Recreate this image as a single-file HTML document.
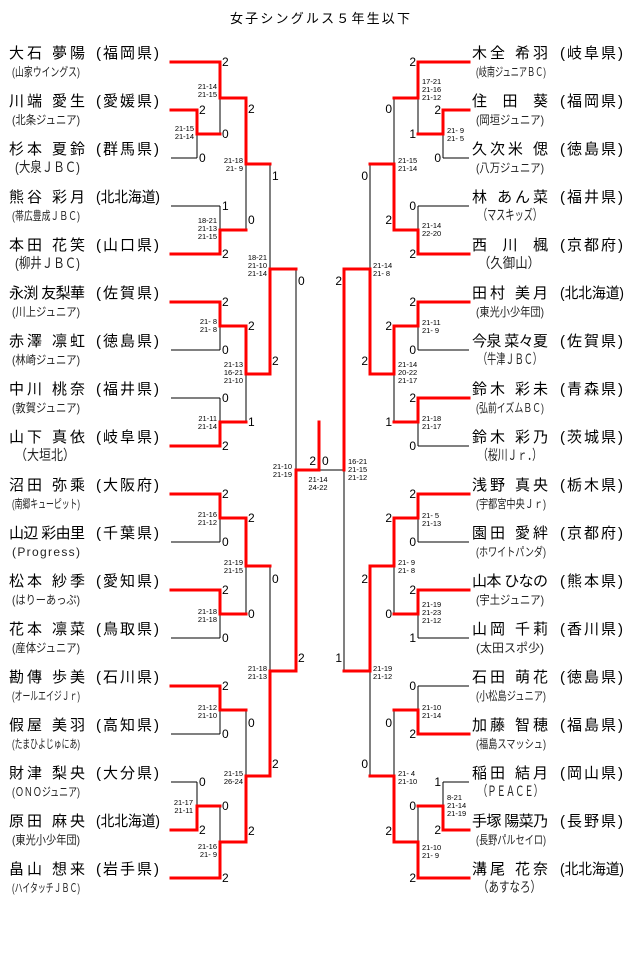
<!DOCTYPE html>
<html><head><meta charset="utf-8"><style>
html,body{margin:0;padding:0;background:#fff;}
svg{display:block;}
.n{font-family:"Liberation Sans","Noto Sans CJK JP",sans-serif;font-size:15px;fill:#000;}
.t{font-family:"Liberation Sans","Noto Sans CJK JP",sans-serif;font-size:12px;fill:#222;}
.tw{font-family:"Liberation Sans","Noto Sans CJK JP",sans-serif;font-size:14px;fill:#222;}
.d{font-family:"Liberation Sans",sans-serif;font-size:12px;fill:#000;}
.s{font-family:"Liberation Sans",sans-serif;font-size:7.5px;fill:#000;}
.ti{font-family:"Liberation Sans","Noto Sans CJK JP",sans-serif;font-size:13px;fill:#000;}
</style></head><body>
<svg width="640" height="957" viewBox="0 0 640 957" xmlns="http://www.w3.org/2000/svg">
<text class="ti" x="230" y="23" textLength="180" lengthAdjust="spacing">女子シングルス５年生以下</text>

<g stroke="#000" stroke-width="1" fill="none">
<path d="M171 158H197 M197 134V158 M220 98V134 M171 206H220 M220 206V230 M246 164V230 M171 350H220 M220 326V350 M171 398H220 M220 398V422 M246 374V422 M270 164V269 M296 269V470 M319 470H344
M171 542H220 M220 518V542 M171 638H220 M220 614V638 M246 566V614 M171 734H220 M220 710V734 M171 782H197 M197 782V806 M220 806V842 M246 710V776 M270 566V671
M443 158H469 M443 134V158 M418 98V134 M418 206H469 M418 206V230 M394 98V164 M418 350H469 M418 326V350 M418 446H469 M418 422V446 M394 374V422 M370 164V269 M344 470V671
M418 542H469 M418 518V542 M418 638H469 M418 614V638 M394 566V614 M418 686H469 M418 686V710 M443 782H469 M443 782V806 M418 806V842 M394 710V776 M370 671V776"/>
</g>
<g stroke="#ff0000" stroke-width="3" fill="none" stroke-linecap="square" stroke-linejoin="miter">
<path d="M171 62H220V98H246 M171 110H197V134H220 M171 254H220V230H246 M246 98V164H270 M171 302H220V326H246 M171 446H220V422H246 M246 326V374H270 M270 374V269H296 M296 671V470H319V422
M171 494H220V518H246 M171 590H220V614H246 M246 518V566H270 M171 686H220V710H246 M171 830H197V806H220 M171 878H220V842H246 M246 842V776H270 M270 776V671H296
M469 62H418V98H394 M469 110H443V134H418 M469 254H418V230H394 M394 230V164H370 M469 302H418V326H394 M469 398H418V422H394 M394 326V374H370 M370 374V269H344V470
M469 494H418V518H394 M469 590H418V614H394 M394 518V566H370 M469 734H418V710H394 M469 830H443V806H418 M469 878H418V842H394 M394 842V776H370 M370 566V671H344"/>
</g>

<g class="d">
<text x="199" y="114">2</text><text x="199" y="162">0</text><text x="199" y="786">0</text><text x="199" y="834">2</text>
<text x="222" y="66">2</text><text x="222" y="138">0</text><text x="222" y="210">1</text><text x="222" y="258">2</text>
<text x="222" y="306">2</text><text x="222" y="354">0</text><text x="222" y="402">0</text><text x="222" y="450">2</text>
<text x="222" y="498">2</text><text x="222" y="546">0</text><text x="222" y="594">2</text><text x="222" y="642">0</text>
<text x="222" y="690">2</text><text x="222" y="738">0</text><text x="222" y="810">0</text><text x="222" y="882">2</text>
<text x="248" y="113">2</text><text x="248" y="224">0</text><text x="248" y="330">2</text><text x="248" y="426">1</text>
<text x="248" y="522">2</text><text x="248" y="618">0</text><text x="248" y="727">0</text><text x="248" y="835">2</text>
<text x="272" y="180">1</text><text x="272" y="365">2</text><text x="272" y="583">0</text><text x="272" y="768">2</text>
<text x="298" y="285">0</text><text x="298" y="662">2</text>
<text x="316" y="465" text-anchor="end">2</text><text x="322" y="465">0</text>
</g>
<g class="d" text-anchor="end">
<text x="441" y="114">2</text><text x="441" y="162">0</text><text x="441" y="786">1</text><text x="441" y="834">2</text>
<text x="416" y="66">2</text><text x="416" y="138">1</text><text x="416" y="210">0</text><text x="416" y="258">2</text>
<text x="416" y="306">2</text><text x="416" y="354">0</text><text x="416" y="402">2</text><text x="416" y="450">0</text>
<text x="416" y="498">2</text><text x="416" y="546">0</text><text x="416" y="594">2</text><text x="416" y="642">1</text>
<text x="416" y="690">0</text><text x="416" y="738">2</text><text x="416" y="810">0</text><text x="416" y="882">2</text>
<text x="392" y="113">0</text><text x="392" y="224">2</text><text x="392" y="330">2</text><text x="392" y="426">1</text>
<text x="392" y="522">2</text><text x="392" y="618">0</text><text x="392" y="727">0</text><text x="392" y="835">2</text>
<text x="368" y="180">0</text><text x="368" y="365">2</text><text x="368" y="583">2</text><text x="368" y="768">0</text>
<text x="342" y="285">2</text><text x="342" y="662">1</text>
</g>

<g class="s" text-anchor="end">
<text x="194" y="131">21-15</text><text x="194" y="139">21-14</text>
<text x="217" y="89">21-14</text><text x="217" y="97">21-15</text>
<text x="217" y="223">18-21</text><text x="217" y="231">21-13</text><text x="217" y="239">21-15</text>
<text x="243" y="163">21-18</text><text x="243" y="171">21- 9</text>
<text x="217" y="324">21- 8</text><text x="217" y="332">21- 8</text>
<text x="217" y="421">21-11</text><text x="217" y="429">21-14</text>
<text x="243" y="367">21-13</text><text x="243" y="375">16-21</text><text x="243" y="383">21-10</text>
<text x="267" y="260">18-21</text><text x="267" y="268">21-10</text><text x="267" y="276">21-14</text>
<text x="292" y="469">21-10</text><text x="292" y="477">21-19</text>
<text x="217" y="517">21-16</text><text x="217" y="525">21-12</text>
<text x="243" y="565">21-19</text><text x="243" y="573">21-15</text>
<text x="217" y="614">21-18</text><text x="217" y="622">21-18</text>
<text x="267" y="671">21-18</text><text x="267" y="679">21-13</text>
<text x="217" y="710">21-12</text><text x="217" y="718">21-10</text>
<text x="243" y="776">21-15</text><text x="243" y="784">26-24</text>
<text x="193" y="805">21-17</text><text x="193" y="813">21-11</text>
<text x="217" y="849">21-16</text><text x="217" y="857">21- 9</text>
</g>
<g class="s" text-anchor="middle">
<text x="318" y="482">21-14</text><text x="318" y="490">24-22</text>
</g>
<g class="s">
<text x="447" y="133">21- 9</text><text x="447" y="141">21- 5</text>
<text x="422" y="84">17-21</text><text x="422" y="92">21-16</text><text x="422" y="100">21-12</text>
<text x="422" y="228">21-14</text><text x="422" y="236">22-20</text>
<text x="398" y="163">21-15</text><text x="398" y="171">21-14</text>
<text x="373" y="268">21-14</text><text x="373" y="276">21- 8</text>
<text x="422" y="325">21-11</text><text x="422" y="333">21- 9</text>
<text x="398" y="367">21-14</text><text x="398" y="375">20-22</text><text x="398" y="383">21-17</text>
<text x="422" y="421">21-18</text><text x="422" y="429">21-17</text>
<text x="348" y="464">16-21</text><text x="348" y="472">21-15</text><text x="348" y="480">21-12</text>
<text x="422" y="518">21- 5</text><text x="422" y="526">21-13</text>
<text x="398" y="565">21- 9</text><text x="398" y="573">21- 8</text>
<text x="422" y="607">21-19</text><text x="422" y="615">21-23</text><text x="422" y="623">21-12</text>
<text x="373" y="671">21-19</text><text x="373" y="679">21-12</text>
<text x="422" y="710">21-10</text><text x="422" y="718">21-14</text>
<text x="398" y="776">21- 4</text><text x="398" y="784">21-10</text>
<text x="447" y="800">8-21</text><text x="447" y="808">21-14</text><text x="447" y="816">21-19</text>
<text x="422" y="850">21-10</text><text x="422" y="858">21- 9</text>
</g>

<g class="n">
<text x="9" y="58" textLength="76" lengthAdjust="spacing">大石 夢陽</text><text x="96" y="58" textLength="63" lengthAdjust="spacing">(福岡県)</text>
<text x="9" y="106" textLength="76" lengthAdjust="spacing">川端 愛生</text><text x="96" y="106" textLength="63" lengthAdjust="spacing">(愛媛県)</text>
<text x="9" y="154" textLength="76" lengthAdjust="spacing">杉本 夏鈴</text><text x="96" y="154" textLength="63" lengthAdjust="spacing">(群馬県)</text>
<text x="9" y="202" textLength="76" lengthAdjust="spacing">熊谷 彩月</text><text x="96" y="202" textLength="64" lengthAdjust="spacingAndGlyphs">(北北海道)</text>
<text x="9" y="250" textLength="76" lengthAdjust="spacing">本田 花笑</text><text x="96" y="250" textLength="63" lengthAdjust="spacing">(山口県)</text>
<text x="9" y="298" textLength="76" lengthAdjust="spacing">永渕 友梨華</text><text x="96" y="298" textLength="63" lengthAdjust="spacing">(佐賀県)</text>
<text x="9" y="346" textLength="76" lengthAdjust="spacing">赤澤 凛虹</text><text x="96" y="346" textLength="63" lengthAdjust="spacing">(徳島県)</text>
<text x="9" y="394" textLength="76" lengthAdjust="spacing">中川 桃奈</text><text x="96" y="394" textLength="63" lengthAdjust="spacing">(福井県)</text>
<text x="9" y="442" textLength="76" lengthAdjust="spacing">山下 真依</text><text x="96" y="442" textLength="63" lengthAdjust="spacing">(岐阜県)</text>
<text x="9" y="490" textLength="76" lengthAdjust="spacing">沼田 弥乘</text><text x="96" y="490" textLength="63" lengthAdjust="spacing">(大阪府)</text>
<text x="9" y="538" textLength="76" lengthAdjust="spacing">山辺 彩由里</text><text x="96" y="538" textLength="63" lengthAdjust="spacing">(千葉県)</text>
<text x="9" y="586" textLength="76" lengthAdjust="spacing">松本 紗季</text><text x="96" y="586" textLength="63" lengthAdjust="spacing">(愛知県)</text>
<text x="9" y="634" textLength="76" lengthAdjust="spacing">花本 凛菜</text><text x="96" y="634" textLength="63" lengthAdjust="spacing">(鳥取県)</text>
<text x="9" y="682" textLength="76" lengthAdjust="spacing">勘傳 歩美</text><text x="96" y="682" textLength="63" lengthAdjust="spacing">(石川県)</text>
<text x="9" y="730" textLength="76" lengthAdjust="spacing">假屋 美羽</text><text x="96" y="730" textLength="63" lengthAdjust="spacing">(高知県)</text>
<text x="9" y="778" textLength="76" lengthAdjust="spacing">財津 梨央</text><text x="96" y="778" textLength="63" lengthAdjust="spacing">(大分県)</text>
<text x="9" y="826" textLength="76" lengthAdjust="spacing">原田 麻央</text><text x="96" y="826" textLength="64" lengthAdjust="spacingAndGlyphs">(北北海道)</text>
<text x="9" y="874" textLength="76" lengthAdjust="spacing">畠山 想来</text><text x="96" y="874" textLength="63" lengthAdjust="spacing">(岩手県)</text>
</g>
<g class="n">
<text x="472" y="58" textLength="76" lengthAdjust="spacing">木全 希羽</text><text x="560" y="58" textLength="63" lengthAdjust="spacing">(岐阜県)</text>
<text x="472" y="106" textLength="76" lengthAdjust="spacing">住　田　葵</text><text x="560" y="106" textLength="63" lengthAdjust="spacing">(福岡県)</text>
<text x="472" y="154" textLength="76" lengthAdjust="spacing">久次米 偲</text><text x="560" y="154" textLength="63" lengthAdjust="spacing">(徳島県)</text>
<text x="472" y="202" textLength="76" lengthAdjust="spacing">林 あん菜</text><text x="560" y="202" textLength="63" lengthAdjust="spacing">(福井県)</text>
<text x="472" y="250" textLength="76" lengthAdjust="spacing">西　川　楓</text><text x="560" y="250" textLength="63" lengthAdjust="spacing">(京都府)</text>
<text x="472" y="298" textLength="76" lengthAdjust="spacing">田村 美月</text><text x="560" y="298" textLength="64" lengthAdjust="spacingAndGlyphs">(北北海道)</text>
<text x="472" y="346" textLength="76" lengthAdjust="spacing">今泉 菜々夏</text><text x="560" y="346" textLength="63" lengthAdjust="spacing">(佐賀県)</text>
<text x="472" y="394" textLength="76" lengthAdjust="spacing">鈴木 彩未</text><text x="560" y="394" textLength="63" lengthAdjust="spacing">(青森県)</text>
<text x="472" y="442" textLength="76" lengthAdjust="spacing">鈴木 彩乃</text><text x="560" y="442" textLength="63" lengthAdjust="spacing">(茨城県)</text>
<text x="472" y="490" textLength="76" lengthAdjust="spacing">浅野 真央</text><text x="560" y="490" textLength="63" lengthAdjust="spacing">(栃木県)</text>
<text x="472" y="538" textLength="76" lengthAdjust="spacing">園田 愛絆</text><text x="560" y="538" textLength="63" lengthAdjust="spacing">(京都府)</text>
<text x="472" y="586" textLength="76" lengthAdjust="spacing">山本 ひなの</text><text x="560" y="586" textLength="63" lengthAdjust="spacing">(熊本県)</text>
<text x="472" y="634" textLength="76" lengthAdjust="spacing">山岡 千莉</text><text x="560" y="634" textLength="63" lengthAdjust="spacing">(香川県)</text>
<text x="472" y="682" textLength="76" lengthAdjust="spacing">石田 萌花</text><text x="560" y="682" textLength="63" lengthAdjust="spacing">(徳島県)</text>
<text x="472" y="730" textLength="76" lengthAdjust="spacing">加藤 智穂</text><text x="560" y="730" textLength="63" lengthAdjust="spacing">(福島県)</text>
<text x="472" y="778" textLength="76" lengthAdjust="spacing">稲田 結月</text><text x="560" y="778" textLength="63" lengthAdjust="spacing">(岡山県)</text>
<text x="472" y="826" textLength="76" lengthAdjust="spacing">手塚 陽菜乃</text><text x="560" y="826" textLength="63" lengthAdjust="spacing">(長野県)</text>
<text x="472" y="874" textLength="76" lengthAdjust="spacing">溝尾 花奈</text><text x="560" y="874" textLength="64" lengthAdjust="spacingAndGlyphs">(北北海道)</text>
</g>

<g class="t">
<text x="12" y="76" textLength="68" lengthAdjust="spacingAndGlyphs">(山家ウイングス)</text>
<text x="12" y="124" textLength="68" lengthAdjust="spacingAndGlyphs">(北条ジュニア)</text>
<text x="12" y="220" textLength="68" lengthAdjust="spacingAndGlyphs">(帯広豊成ＪＢＣ)</text>
<text x="12" y="316" textLength="68" lengthAdjust="spacingAndGlyphs">(川上ジュニア)</text>
<text x="12" y="364" textLength="68" lengthAdjust="spacingAndGlyphs">(林崎ジュニア)</text>
<text x="12" y="412" textLength="68" lengthAdjust="spacingAndGlyphs">(敦賀ジュニア)</text>
<text x="12" y="508" textLength="68" lengthAdjust="spacingAndGlyphs">(南郷キューピット)</text>
<text x="12" y="556" textLength="68" lengthAdjust="spacing">(Progress)</text>
<text x="12" y="604" textLength="68" lengthAdjust="spacingAndGlyphs">(はりーあっぷ)</text>
<text x="12" y="652" textLength="68" lengthAdjust="spacingAndGlyphs">(産体ジュニア)</text>
<text x="12" y="700" textLength="68" lengthAdjust="spacingAndGlyphs">(オールエイジＪｒ)</text>
<text x="12" y="748" textLength="68" lengthAdjust="spacingAndGlyphs">(たまひよじゅにあ)</text>
<text x="12" y="796" textLength="68" lengthAdjust="spacingAndGlyphs">(ＯＮＯジュニア)</text>
<text x="12" y="844" textLength="68" lengthAdjust="spacingAndGlyphs">(東光小少年団)</text>
<text x="12" y="892" textLength="68" lengthAdjust="spacingAndGlyphs">(ハイタッチＪＢＣ)</text>
</g>
<g class="tw">
<text x="15" y="172" textLength="65" lengthAdjust="spacingAndGlyphs">(大泉ＪＢＣ)</text>
<text x="15" y="268" textLength="65" lengthAdjust="spacingAndGlyphs">(柳井ＪＢＣ)</text>
<text x="15" y="460" textLength="60" lengthAdjust="spacingAndGlyphs">（大垣北）</text>
</g>
<g class="t">
<text x="476" y="76" textLength="70" lengthAdjust="spacingAndGlyphs">(岐南ジュニアＢＣ)</text>
<text x="476" y="124" textLength="68" lengthAdjust="spacingAndGlyphs">(岡垣ジュニア)</text>
<text x="476" y="172" textLength="68" lengthAdjust="spacingAndGlyphs">(八万ジュニア)</text>
<text x="476" y="316" textLength="68" lengthAdjust="spacingAndGlyphs">(東光小少年団)</text>
<text x="476" y="412" textLength="68" lengthAdjust="spacingAndGlyphs">(弘前イズムＢＣ)</text>
<text x="476" y="508" textLength="70" lengthAdjust="spacingAndGlyphs">(宇都宮中央Ｊｒ)</text>
<text x="476" y="556" textLength="70" lengthAdjust="spacingAndGlyphs">(ホワイトパンダ)</text>
<text x="476" y="604" textLength="68" lengthAdjust="spacingAndGlyphs">(宇土ジュニア)</text>
<text x="476" y="652" textLength="68" lengthAdjust="spacingAndGlyphs">(太田スポ少)</text>
<text x="476" y="700" textLength="70" lengthAdjust="spacingAndGlyphs">(小松島ジュニア)</text>
<text x="476" y="748" textLength="70" lengthAdjust="spacingAndGlyphs">(福島スマッシュ)</text>
<text x="476" y="844" textLength="70" lengthAdjust="spacingAndGlyphs">(長野パルセイロ)</text>
</g>
<g class="tw">
<text x="478" y="220" textLength="64" lengthAdjust="spacingAndGlyphs">（マスキッズ）</text>
<text x="478" y="268" textLength="62" lengthAdjust="spacingAndGlyphs">（久御山）</text>
<text x="478" y="364" textLength="64" lengthAdjust="spacingAndGlyphs">（牛津ＪＢＣ）</text>
<text x="478" y="460" textLength="64" lengthAdjust="spacingAndGlyphs">（桜川Ｊｒ．）</text>
<text x="478" y="796" textLength="65" lengthAdjust="spacingAndGlyphs">（ＰＥＡＣＥ）</text>
<text x="478" y="892" textLength="63" lengthAdjust="spacingAndGlyphs">（あすなろ）</text>
</g>
</svg>
</body></html>
